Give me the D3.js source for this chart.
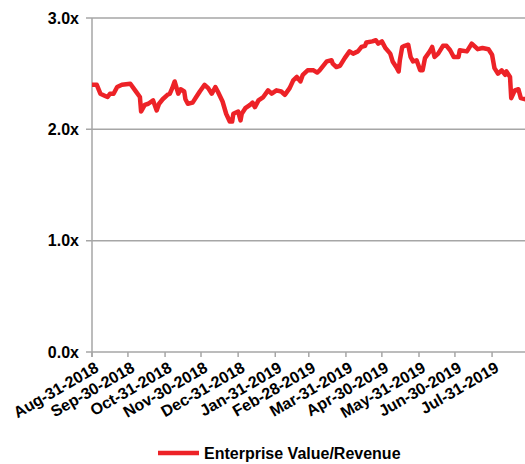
<!DOCTYPE html>
<html>
<head>
<meta charset="utf-8">
<script src="https://cdn.jsdelivr.net/npm/d3@7"></script>
<style>
  body { margin: 0; background: #fff; }
  text { font-family: "Liberation Sans", Arial, sans-serif; font-weight: bold; fill: #000; }
</style>
</head>
<body>
<div id="chart"></div>
<script>
// EV/Revenue multiple
const dates = [
  "2018-08-31","2018-09-04","2018-09-07","2018-09-11","2018-09-13","2018-09-15","2018-09-18","2018-09-21","2018-09-25",
  "2018-10-02","2018-10-06","2018-10-10","2018-10-11","2018-10-14","2018-10-17","2018-10-21","2018-10-24","2018-10-26","2018-10-29",
  "2018-11-02","2018-11-04","2018-11-06","2018-11-08","2018-11-11","2018-11-13","2018-11-16","2018-11-17","2018-11-19","2018-11-23","2018-11-26","2018-11-29",
  "2018-12-03","2018-12-06","2018-12-09","2018-12-12","2018-12-14","2018-12-18","2018-12-21","2018-12-24","2018-12-26","2018-12-27","2018-12-31",
  "2019-01-02","2019-01-03","2019-01-06","2019-01-10","2019-01-12","2019-01-14","2019-01-17","2019-01-21","2019-01-25","2019-01-28",
  "2019-02-01","2019-02-05","2019-02-08","2019-02-12","2019-02-15","2019-02-18","2019-02-21","2019-02-23","2019-02-27",
  "2019-03-04","2019-03-07","2019-03-09","2019-03-15","2019-03-19","2019-03-20","2019-03-23","2019-03-26","2019-03-30",
  "2019-04-03","2019-04-06","2019-04-10","2019-04-13","2019-04-16","2019-04-17","2019-04-22","2019-04-25","2019-04-27","2019-04-30",
  "2019-05-03","2019-05-07","2019-05-09","2019-05-12","2019-05-14","2019-05-15","2019-05-17","2019-05-19","2019-05-22","2019-05-24","2019-05-26","2019-05-29",
  "2019-06-01","2019-06-03","2019-06-05","2019-06-09","2019-06-11","2019-06-13","2019-06-16","2019-06-20","2019-06-23","2019-06-26","2019-06-29",
  "2019-07-03","2019-07-04","2019-07-10","2019-07-14","2019-07-17","2019-07-19","2019-07-23","2019-07-28","2019-07-31",
  "2019-08-02","2019-08-05","2019-08-08","2019-08-11","2019-08-12","2019-08-15","2019-08-16","2019-08-19","2019-08-22","2019-08-24","2019-08-28"
];
const evRevenue = [
  2.40,2.40,2.32,2.30,2.29,2.32,2.32,2.38,2.40,
  2.41,2.35,2.29,2.16,2.22,2.23,2.26,2.17,2.23,2.27,
  2.31,2.32,2.37,2.43,2.32,2.36,2.34,2.27,2.23,2.24,2.29,2.34,
  2.40,2.37,2.32,2.38,2.34,2.25,2.14,2.07,2.07,2.14,2.16,
  2.08,2.14,2.19,2.22,2.24,2.20,2.26,2.29,2.35,2.32,
  2.35,2.34,2.31,2.37,2.44,2.47,2.43,2.49,2.53,
  2.53,2.51,2.53,2.61,2.62,2.59,2.56,2.57,2.64,
  2.70,2.68,2.70,2.74,2.75,2.78,2.79,2.80,2.77,2.79,
  2.73,2.68,2.61,2.56,2.52,2.62,2.74,2.75,2.76,2.65,2.61,2.62,
  2.53,2.53,2.64,2.70,2.74,2.65,2.68,2.75,2.75,2.71,2.65,
  2.65,2.71,2.70,2.77,2.74,2.72,2.73,2.72,2.67,
  2.55,2.50,2.53,2.49,2.52,2.47,2.28,2.35,2.36,2.28,2.27
];
const tickDates = ["2018-08-31","2018-09-30","2018-10-31","2018-11-30","2018-12-31","2019-01-31",
  "2019-02-28","2019-03-31","2019-04-30","2019-05-31","2019-06-30","2019-07-31"];
const yTicks = [0, 1, 2, 3];
const seriesName = "Enterprise Value/Revenue";

const width = 525, height = 464;
const parse = d3.timeParse("%Y-%m-%d");
const data = dates.map((d, i) => ({ date: parse(d), value: evRevenue[i] }));

const svg = d3.select("#chart").append("svg")
  .attr("width", width)
  .attr("height", height);

const x = d3.scaleTime()
  .domain([parse("2018-08-31"), parse("2019-08-30")])
  .range([92, 528]);
const y = d3.scaleLinear()
  .domain([0, 3])
  .range([352, 18]);

// gridlines
svg.append("g")
  .selectAll("line")
  .data(yTicks)
  .join("line")
  .attr("x1", 86)
  .attr("x2", width)
  .attr("y1", d => y(d))
  .attr("y2", d => y(d))
  .attr("stroke", "#a6a6a6")
  .attr("stroke-width", 1.5);

// y axis line
svg.append("line")
  .attr("x1", 92).attr("x2", 92)
  .attr("y1", y(3)).attr("y2", y(0) + 5)
  .attr("stroke", "#a6a6a6")
  .attr("stroke-width", 1.5);

// y labels
svg.append("g")
  .selectAll("text")
  .data(yTicks)
  .join("text")
  .attr("x", 79)
  .attr("y", d => y(d))
  .attr("dy", "0.36em")
  .attr("text-anchor", "end")
  .style("font-size", "16px")
  .text(d => d3.format(".1f")(d) + "x");

// x ticks
const fmt = d3.timeFormat("%b-%d-%Y");
svg.append("g")
  .selectAll("line")
  .data(tickDates)
  .join("line")
  .attr("x1", d => x(parse(d)))
  .attr("x2", d => x(parse(d)))
  .attr("y1", y(0))
  .attr("y2", y(0) + 5)
  .attr("stroke", "#a6a6a6")
  .attr("stroke-width", 1.5);

svg.append("g")
  .selectAll("text")
  .data(tickDates)
  .join("text")
  .attr("transform", d => `translate(${x(parse(d)) + 5},${y(0) + 14}) rotate(-30)`)
  .attr("text-anchor", "end")
  .attr("dy", "0.35em")
  .style("font-size", "16px")
  .text(d => fmt(parse(d)));

// the series
const line = d3.line()
  .x(d => x(d.date))
  .y(d => y(d.value));

svg.append("path")
  .datum(data)
  .attr("fill", "none")
  .attr("stroke", "#ed2227")
  .attr("stroke-width", 4.5)
  .attr("stroke-linejoin", "round")
  .attr("d", line);

// legend
svg.append("line")
  .attr("x1", 158).attr("x2", 199)
  .attr("y1", 453).attr("y2", 453)
  .attr("stroke", "#ed2227")
  .attr("stroke-width", 4.5);
svg.append("text")
  .attr("x", 204)
  .attr("y", 459)
  .style("font-size", "16px")
  .text(seriesName);
</script>
</body>
</html>
